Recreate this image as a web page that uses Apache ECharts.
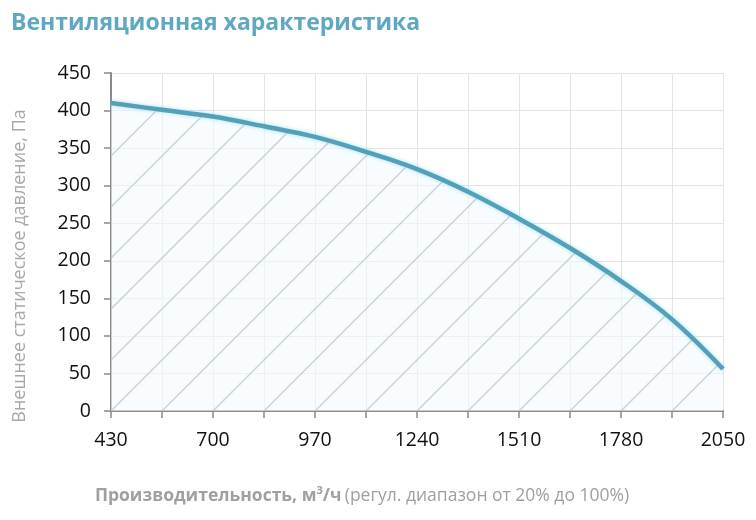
<!DOCTYPE html>
<html>
<head>
<meta charset="utf-8">
<script src="https://cdn.jsdelivr.net/npm/echarts@6/dist/echarts.min.js"></script>
<style>
  html, body { margin: 0; padding: 0; background: #fff; }
  #chart { width: 756px; height: 520px; }
</style>
</head>
<body>
<div id="chart"></div>
<script>
// расход воздуха, м3/ч (каждая вторая точка подписана)
const flowValues = [430, 565, 700, 835, 970, 1105, 1240, 1375, 1510, 1645, 1780, 1915, 2050]
// давление, Па
const pressureValues = [410, 401, 392, 379, 365, 345, 322, 292, 256, 217, 173, 122, 56]

const titleText = 'Вентиляционная характеристика'
const yName = 'Внешнее статическое давление, Па'
const xNameBold = 'Производительность, м'
const xNameTail = '(регул. диапазон от 20% до 100%)'

// штриховка под кривой
const makeHatch = () => {
  const size = 51
  const c = document.createElement('canvas')
  c.width = size
  c.height = size
  const ctx = c.getContext('2d')
  ctx.fillStyle = 'rgba(244,250,253,0.6)'
  ctx.fillRect(0, 0, size, size)
  ctx.strokeStyle = 'rgba(190,194,196,0.7)'
  ctx.lineWidth = 1.5
  ;[12, 63].forEach((k) => {
    ctx.beginPath()
    ctx.moveTo(-5, k + 5)
    ctx.lineTo(k + 5, -5)
    ctx.stroke()
  })
  return c
}

const myChart = echarts.init(document.getElementById('chart'))
const gray = '#8a8a8a'
const option = {
  backgroundColor: '#fff',
  animation: false,
  title: {
    text: titleText,
    left: 6,
    top: 7,
    textStyle: {
      fontFamily: 'Open Sans',
      fontWeight: 'bold',
      fontSize: 23,
      color: '#5fa8c4'
    }
  },
  grid: {
    left: 111,
    right: 33,
    top: 73,
    bottom: 109
  },
  xAxis: {
    type: 'category',
    data: flowValues,
    boundaryGap: false,
    axisLine: { lineStyle: { color: gray, width: 2 } },
    axisTick: { show: true, interval: 0, length: 7, lineStyle: { color: gray, width: 1.5 } },
    axisLabel: {
      interval: 1,
      margin: 19,
      color: '#111',
      fontFamily: 'Open Sans',
      fontSize: 19.5
    },
    splitLine: { show: true, interval: 0, lineStyle: { color: '#e4e4e4', width: 1 } }
  },
  yAxis: {
    type: 'value',
    min: 0,
    max: 450,
    interval: 50,
    axisLine: { show: true, lineStyle: { color: gray, width: 2 } },
    axisTick: { show: true, length: 7, lineStyle: { color: gray, width: 1.5 } },
    axisLabel: {
      margin: 20,
      color: '#111',
      fontFamily: 'Open Sans',
      fontSize: 19.5
    },
    splitLine: { lineStyle: { color: '#e4e4e4', width: 1 } }
  },
  graphic: [
    {
      type: 'text',
      x: 20,
      y: 266,
      rotation: Math.PI / 2,
      style: {
        text: yName,
        fill: '#a8a8a8',
        font: '18px "Open Sans"',
        align: 'center',
        verticalAlign: 'middle'
      }
    },
    {
      type: 'text',
      x: 362,
      y: 496,
      style: {
        text: '{b|' + xNameBold + '}{s|3}{b|/ч} {n|' + xNameTail + '}',
        align: 'center',
        verticalAlign: 'middle',
        rich: {
          b: { fontFamily: 'Open Sans', fontWeight: 'bold', fontSize: 17.5, fill: '#a0a0a0' },
          s: { fontFamily: 'Open Sans', fontWeight: 'bold', fontSize: 11, fill: '#a0a0a0', verticalAlign: 'top', padding: [0, 0, 10, 0] },
          n: { fontFamily: 'Open Sans', fontSize: 17.5, fill: '#a0a0a0' }
        }
      }
    }
  ],
  series: [
    {
      type: 'line',
      data: pressureValues,
      smooth: 0.4,
      symbol: 'none',
      lineStyle: {
        color: '#54a0b9',
        width: 4.5,
        shadowColor: 'rgba(120,215,240,0.7)',
        shadowBlur: 4
      },
      areaStyle: {
        color: { image: makeHatch(), repeat: 'repeat' },
        opacity: 1
      }
    }
  ]
}
myChart.clear()
myChart.setOption(option)
</script>
</body>
</html>
